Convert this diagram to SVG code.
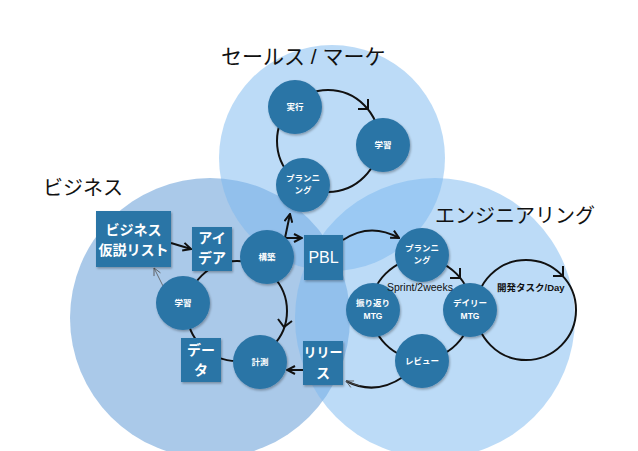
<svg xmlns="http://www.w3.org/2000/svg" width="638" height="451" viewBox="0 0 638 451">
<style>
.title{font-family:"Liberation Sans","Noto Sans CJK JP",sans-serif;font-size:20px;fill:#111}
.nd{fill:#2c74a6;filter:url(#sh)}
.ct{font-family:"Liberation Sans","Noto Sans CJK JP",sans-serif;font-size:8.5px;font-weight:bold;fill:#fff;text-anchor:middle}
.bt{font-family:"Liberation Sans","Noto Sans CJK JP",sans-serif;font-size:14px;font-weight:bold;fill:#fff;text-anchor:middle}
.lbl{font-family:"Liberation Sans","Noto Sans CJK JP",sans-serif;font-size:10.5px;fill:#111}
.ln{fill:none;stroke:#111;stroke-width:2}
.thin{fill:none;stroke:#555;stroke-width:0.8}
</style>
<defs>
<filter id="sh" x="-20%" y="-20%" width="150%" height="150%">
<feDropShadow dx="1" dy="1.5" stdDeviation="1.2" flood-color="#000" flood-opacity="0.3"/>
</filter>
<marker id="ah" viewBox="0 0 10 10" refX="9" refY="5" markerWidth="10" markerHeight="10" markerUnits="userSpaceOnUse" orient="auto">
<path d="M1,1 L9,5 L1,9" fill="none" stroke="#111" stroke-width="2"/>
</marker>
<marker id="aht" viewBox="0 0 10 10" refX="9" refY="5" markerWidth="9" markerHeight="9" markerUnits="userSpaceOnUse" orient="auto">
<path d="M1,1 L9,5 L1,9" fill="none" stroke="#555" stroke-width="0.9"/>
</marker>
</defs>
<rect width="638" height="451" fill="#fff"/>
<g id="venn">
<circle id="c-business" cx="210" cy="318" r="140" fill="#5593d3" fill-opacity="0.5"/>
<circle id="c-engineering" cx="435" cy="318" r="140" fill="#7ab8f0" fill-opacity="0.5"/>
<circle id="c-sales" cx="332" cy="158" r="113" fill="#7ab8f0" fill-opacity="0.5"/>
</g>
<g id="titles">
<text class="title" x="221" y="64" style="font-size:21px">セールス / マーケ</text>
<text class="title" x="43" y="195">ビジネス</text>
<text class="title" x="435" y="223">エンジニアリング</text>
</g>
<g id="connectors">
<circle class="ln" cx="328" cy="141" r="51"/>
<polyline class="ln" points="358,109 368,109 368,99"/>
<circle class="ln" cx="237" cy="311" r="50"/>
<polyline class="ln" points="278,319 284,327 292,321"/>
<circle class="ln" cx="421" cy="309" r="50"/>
<polyline class="ln" points="450,278 460,278 460,268"/>
<circle class="ln" cx="526" cy="310" r="50"/>
<polyline class="ln" points="553,276 563,276 563,266"/>
<line class="ln" x1="171" y1="243" x2="191" y2="249" marker-end="url(#ah)"/>
<line class="thin" x1="163" y1="286" x2="154" y2="268" marker-end="url(#aht)"/>
<line class="ln" x1="285" y1="238" x2="302" y2="238" marker-end="url(#ah)"/>
<line class="ln" x1="285" y1="238" x2="290" y2="214" marker-end="url(#ah)"/>
<line class="ln" x1="303" y1="370" x2="287" y2="370" marker-end="url(#ah)"/>
<path class="ln" d="M343,240 Q370,222 399,238" marker-end="url(#ah)"/>
<path class="ln" d="M403,377 Q375,396 346,381"/>
<path class="thin" d="M360,386 Q352,384 346,381" marker-end="url(#aht)"/>
</g>
<g id="n-jikko"><circle class="nd" cx="295" cy="107" r="27"/><text class="ct" x="295" y="110">実行</text></g>
<g id="n-gakushu-s"><circle class="nd" cx="383" cy="145" r="27"/><text class="ct" x="383" y="148">学習</text></g>
<g id="n-planning-s"><circle class="nd" cx="303" cy="185" r="27"/><text class="ct" x="303" y="181">プランニ</text><text class="ct" x="303" y="193">ング</text></g>
<g id="n-hypothesis"><rect class="nd" x="96" y="211" width="75" height="56"/><text class="bt" x="133.5" y="235">ビジネス</text><text class="bt" x="133.5" y="255">仮説リスト</text></g>
<g id="n-idea"><rect class="nd" x="192" y="227" width="40" height="44"/><text class="bt" x="212" y="243">アイ</text><text class="bt" x="212" y="263">デア</text></g>
<g id="n-kochiku"><circle class="nd" cx="267" cy="257" r="27"/><text class="ct" x="267" y="260">構築</text></g>
<g id="n-gakushu-b"><circle class="nd" cx="183" cy="303" r="27"/><text class="ct" x="183" y="306">学習</text></g>
<g id="n-data"><rect class="nd" x="181" y="338" width="40" height="44"/><text class="bt" x="201" y="355">デー</text><text class="bt" x="201" y="375">タ</text></g>
<g id="n-keisoku"><circle class="nd" cx="260" cy="362" r="27"/><text class="ct" x="260" y="365">計測</text></g>
<g id="n-pbl"><rect class="nd" x="304" y="235" width="39" height="45"/><text x="323.5" y="263" style="font-family:'Liberation Sans',sans-serif;font-size:16px;fill:#fff;text-anchor:middle">PBL</text></g>
<g id="n-release"><rect class="nd" x="303" y="341" width="40" height="44"/><text class="bt" x="323" y="357" style="font-size:13px">リリー</text><text class="bt" x="323" y="378">ス</text></g>
<g id="n-planning-e"><circle class="nd" cx="422" cy="255" r="27"/><text class="ct" x="422" y="251">プランニ</text><text class="ct" x="422" y="263">ング</text></g>
<g id="n-furikaeri"><circle class="nd" cx="373" cy="310" r="27"/><text class="ct" x="373" y="306">振り返り</text><text class="ct" x="373" y="319">MTG</text></g>
<g id="n-daily"><circle class="nd" cx="470" cy="310" r="27"/><text class="ct" x="470" y="306">デイリー</text><text class="ct" x="470" y="319">MTG</text></g>
<g id="n-review"><circle class="nd" cx="422" cy="361" r="27"/><text class="ct" x="422" y="364">レビュー</text></g>
<g id="labels">
<text class="lbl" x="387" y="291">Sprint/2weeks</text>
<text class="lbl" x="497" y="291" style="font-size:9.5px;font-weight:bold">開発タスク/Day</text>
</g>
</svg>
